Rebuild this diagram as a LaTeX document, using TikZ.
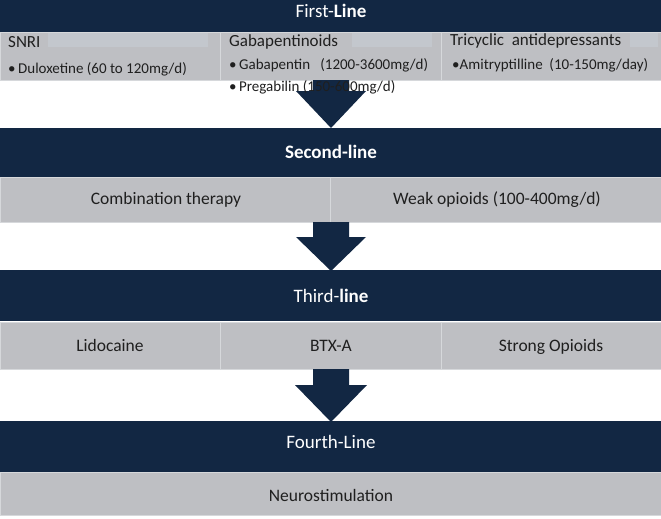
\documentclass[tikz,border=0pt]{standalone}
\usepackage{fontspec}
\setmainfont{Carlito}
\definecolor{navy}{HTML}{122743}
\definecolor{cellgray}{HTML}{BEBFC3}
\definecolor{edgegray}{HTML}{D6D8DB}
\definecolor{hilite}{HTML}{C3C7CD}
\begin{document}
\begin{tikzpicture}[x=1pt,y=-1pt,
  band/.style={fill=navy,draw=none,minimum width=661pt,inner sep=0pt,outer sep=0pt,anchor=north west},
  cell/.style={fill=cellgray,draw=edgegray,line width=0.8pt,inner sep=0pt,outer sep=0pt,anchor=north west},
  ttl/.style={text=white,font=\fontsize{19}{21}\selectfont,text height=1.5ex,text depth=.3ex,inner sep=0pt},
  itm/.style={text=black!88,font=\fontsize{17.5}{20}\selectfont,text height=1.5ex,text depth=.3ex,inner sep=0pt},
  top/.style={text=black!88,font=\fontsize{17}{19}\selectfont,anchor=west,inner sep=0pt},
  topsm/.style={text=black!88,font=\fontsize{15}{17}\selectfont,anchor=west,inner sep=0pt},
  blockarrow/.style={fill=navy,draw=none}]
\useasboundingbox (0,0) rectangle (661,519);
\fill[white] (0,0) rectangle (661,519);
% ---- first level
\node[band,minimum height=32pt] (b1) at (0,0) {};
\node[cell,minimum width=220pt,minimum height=48pt] (c11) at (0,32) {};
\node[cell,minimum width=221pt,minimum height=48pt] (c12) at (220,32) {};
\node[cell,minimum width=220pt,minimum height=48pt] (c13) at (441,32) {};
\fill[hilite] (48,33) rectangle (208,47);
\fill[hilite] (352,33) rectangle (432,47);
\fill[hilite] (630,33) rectangle (658,47);
% arrow 1
\fill[blockarrow] (313,80) -- (349,80) -- (349,91) -- (366,91) -- (331,128) -- (296,91) -- (313,91) -- cycle;
% ---- second level
\node[band,minimum height=49pt] (b2) at (0,128) {};
\node[cell,minimum width=330pt,minimum height=45pt] (c21) at (0,177) {};
\node[cell,minimum width=331pt,minimum height=45pt] (c22) at (330,177) {};
\fill[blockarrow] (313,222) -- (349,222) -- (349,237) -- (366,237) -- (331,271) -- (296,237) -- (313,237) -- cycle;
% ---- third level
\node[band,minimum height=51pt] (b3) at (0,270) {};
\node[cell,minimum width=220pt,minimum height=47pt] (c31) at (0,322) {};
\node[cell,minimum width=221pt,minimum height=47pt] (c32) at (220,322) {};
\node[cell,minimum width=220pt,minimum height=47pt] (c33) at (441,322) {};
\fill[blockarrow] (313,369) -- (349,369) -- (349,385) -- (367,385) -- (331,422) -- (295,385) -- (313,385) -- cycle;
% ---- fourth level
\node[band,minimum height=51pt] (b4) at (0,421) {};
\node[cell,minimum width=661pt,minimum height=43pt] (c41) at (0,472) {};
% ---- titles
\node[ttl] (t1) at (331,15) {First-\textbf{Line}};
\node[ttl] (t2) at (331,156) {\textbf{Second-line}};
\node[ttl] (t3) at (331,300) {Third-\textbf{line}};
\node[ttl] (t4) at (331,446) {Fourth-Line};
% ---- first row texts
\node[top] (snri) at (8,42) {SNRI};
\node[topsm] (dulox) at (8,69) {\textbullet\,Duloxetine (60 to 120mg/d)};
\node[top] (gaba) at (229,42) {Gabapentinoids};
\node[topsm] (gabap) at (229,65) {\textbullet\,Gabapentin\ \ \ (1200-3600mg/d)};
\node[topsm] (prega) at (229,87) {\textbullet\,Pregabilin (150-600mg/d)};
\node[top] (tca) at (450,41) {Tricyclic\ \ antidepressants};
\node[topsm] (ami) at (452,65) {\textbullet Amitryptilline\ \ (10-150mg/day)};
% ---- other rows
\node[itm] (comb) at (166,202) {Combination therapy};
\node[itm] (weak) at (497,202) {Weak opioids (100-400mg/d)};
\node[itm] (lido) at (110,349) {Lidocaine};
\node[itm] (btx) at (331,349) {BTX-A};
\node[itm] (strong) at (551,349) {Strong Opioids};
\node[itm] (neuro) at (331,499) {Neurostimulation};
\end{tikzpicture}
\end{document}
